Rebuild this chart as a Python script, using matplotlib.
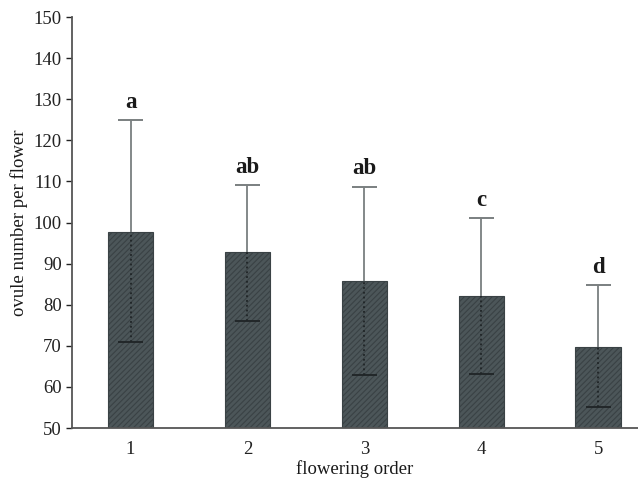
import numpy as np
import matplotlib.pyplot as plt

plt.rcParams['font.family'] = ['Liberation Serif', 'DejaVu Serif']
plt.rcParams['hatch.color'] = '#7d878a'
plt.rcParams['hatch.linewidth'] = 0.8

# data
order = [1, 2, 3, 4, 5]
means = [97.8, 92.8, 85.7, 82.1, 69.8]
upper = [124.9, 109.1, 108.7, 101.1, 84.8]
lower = [70.9, 76.0, 62.9, 63.1, 55.1]
letters = ["a", "ab", "ab", "c", "d"]

fig = plt.figure(figsize=(6.38, 4.86), dpi=100)
ax = fig.add_axes([0.113, 0.1193, 0.887, 0.8457])

x = np.array(order)
cap = 0.105
ax.bar(x, np.array(means) - 50, bottom=50, width=0.39, color='#4c5659',
       edgecolor='#3a4245', linewidth=0.8, hatch='//////', zorder=2)

# upper error bars: solid grey above the bar
ax.vlines(x, means, upper, color='#7a7f80', lw=1.3, zorder=3)
ax.hlines(upper, x - cap, x + cap, color='#7a7f80', lw=1.4, zorder=3)
# lower error bars: dotted inside the bar
ax.vlines(x, lower, means, color='#1f2426', lw=1.3, linestyles=':', zorder=3)
ax.hlines(lower, x - cap, x + cap, color='#1f2426', lw=1.3, zorder=3)

for xi, up, lab in zip(x, upper, letters):
    ax.text(xi, up + 1.8, lab, ha='center', va='bottom', fontsize=16.5,
            fontweight='bold', color='#1a1a1a')

ax.set_xlim(0.5, 5.34)
ax.set_ylim(50, 150)
ax.set_yticks(np.arange(50, 151, 10))
ax.set_xticks(order)
ax.tick_params(labelsize=13.5, colors='#222222', length=4, width=1)
ax.tick_params(axis='x', length=0, pad=9)
for s in ['top', 'right']:
    ax.spines[s].set_visible(False)
for s in ['left', 'bottom']:
    ax.spines[s].set_color('#555555')
    ax.spines[s].set_linewidth(1.3)

ax.set_xlabel('flowering order', fontsize=13.5, color='#1a1a1a', labelpad=2)
ax.set_ylabel('ovule number per flower', fontsize=13.5, color='#1a1a1a',
              labelpad=4)

fig.savefig('out.png', dpi=100)
